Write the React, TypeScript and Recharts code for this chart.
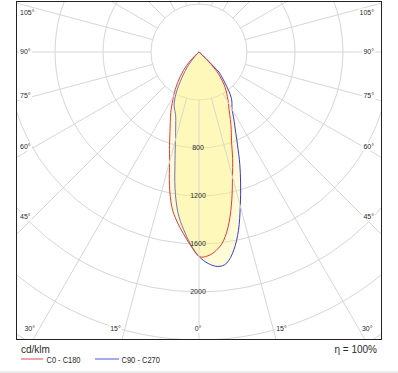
import React from 'react'
import { RadarChart, Radar, PolarGrid, PolarAngleAxis, PolarRadiusAxis } from 'recharts'

const gammas = [0, 2.5, 5, 7.5, 10, 12.5, 15, 17.5, 20, 22.5, 25, 27.5, 30, 32.5, 35, 37.5, 40, 42.5, 45, 47.5, 50]

// cd/klm, red curve: C0 half (right) and C180 half (left)
const c0 = [1703, 1700, 1659, 1582, 1443, 1263, 1078, 932, 792, 702, 619, 542, 491, 439, 393, 345, 283, 224, 117, 10, 0]
const c180 = [1700, 1613, 1516, 1421, 1308, 1138, 949, 818, 707, 625, 558, 485, 423, 367, 310, 255, 203, 152, 96, 25, 0]
// blue curve: C90 half (right) and C270 half (left)
const c90 = [1704, 1764, 1794, 1774, 1674, 1521, 1330, 1153, 994, 838, 717, 628, 552, 511, 471, 407, 337, 282, 221, 40, 0]
const c270 = [1704, 1604, 1482, 1348, 1152, 924, 757, 646, 568, 527, 491, 435, 366, 288, 222, 167, 108, 50, 0, 0, 0]

// nothing is emitted upwards
const upperAngles = [60, 90, 180, 270, 300]

const ringTicks = [400, 800, 1200, 1600, 2000, 2400, 2800]
const ringLabels = [800, 1200, 1600, 2000]
const angleTicks = [0, 15, 30, 45, 60, 75, 90, 105, 120, 135, 150, 165, 180, 195, 210, 225, 240, 255, 270, 285, 300, 315, 330, 345]

const rows = [
  ...gammas.map((g, i) => ({ angle: g, red: c0[i], blue: c90[i] })),
  ...upperAngles.map((a) => ({ angle: a, red: 0, blue: 0 })),
  ...gammas
    .map((g, i) => ({ angle: 360 - g, red: c180[i], blue: c270[i] }))
    .filter((r) => r.angle < 360)
    .reverse(),
]

const W = 366
const H = 339
const CX = 183
const CY = 51
const R_OUT = 336
const RAD = Math.PI / 180
const GRID = '#d6d6d6'
const INK = '#2a2a2a'
const FILL = '#fff27a'

type Pt = { x: number; y: number }

// closed curve through the radar points, sharp at the pole
function smoothLoop(raw: any[], stroke: string) {
  if (!raw || !raw.length) return <g />
  const pts: Pt[] = []
  raw.forEach((p) => {
    const last = pts[pts.length - 1]
    if (!last || Math.hypot(p.x - last.x, p.y - last.y) > 0.2) pts.push({ x: p.x, y: p.y })
  })
  const first = pts[0]
  const end = pts[pts.length - 1]
  if (pts.length > 1 && Math.hypot(first.x - end.x, first.y - end.y) < 0.2) pts.pop()

  const pole = raw.find((p) => p.value === 0) || raw[0]
  let z = 0
  pts.forEach((p, i) => {
    if (Math.hypot(p.x - pole.x, p.y - pole.y) < Math.hypot(pts[z].x - pole.x, pts[z].y - pole.y)) z = i
  })
  const seq = pts.slice(z).concat(pts.slice(0, z))
  seq.push(seq[0])

  let d = `M${seq[0].x},${seq[0].y}`
  for (let i = 0; i < seq.length - 1; i++) {
    const p0 = seq[i - 1] || seq[i]
    const p1 = seq[i]
    const p2 = seq[i + 1]
    const p3 = seq[i + 2] || seq[i + 1]
    const c1x = p1.x + (p2.x - p0.x) / 6
    const c1y = p1.y + (p2.y - p0.y) / 6
    const c2x = p2.x - (p3.x - p1.x) / 6
    const c2y = p2.y - (p3.y - p1.y) / 6
    d += `C${c1x},${c1y},${c2x},${c2y},${p2.x},${p2.y}`
  }
  d += 'Z'
  return <path d={d} fill={FILL} fillOpacity={0.3} stroke={stroke} strokeWidth={1} />
}

function AngleTick(props: any) {
  const v = props.payload.value as number
  const g = v <= 180 ? v : 360 - v
  if (g > 105) return null
  const left = v > 180
  const label = `${g}°`
  const w = (label.length - 1) * 3.9 + 3
  let x: number
  let y: number
  let anchor: 'start' | 'middle' | 'end'
  if (g <= 30) {
    y = 328
    const lx = CX + (left ? -1 : 1) * (y - CY) * Math.tan(g * RAD)
    if (g === 0) {
      x = lx - 1
      anchor = 'middle'
    } else if (left) {
      x = lx - 4
      anchor = 'end'
    } else {
      x = lx + 3
      anchor = 'start'
    }
  } else {
    const dy = (173 * Math.cos(g * RAD)) / Math.sin(g * RAD)
    y = Math.max(CY + 0.95 * dy, 11.5)
    x = left ? 4 : W - 8
    anchor = left ? 'start' : 'end'
  }
  const rx = anchor === 'start' ? x - 1 : anchor === 'end' ? x - w - 1 : x - w / 2 - 1
  return (
    <g>
      <rect x={rx} y={y - 4} width={w + 2} height={8} fill="#fff" />
      <text x={x} y={y} dy="0.35em" textAnchor={anchor} fontSize={7} fill={INK}>
        {label}
      </text>
    </g>
  )
}

function RingTick(props: any) {
  const v = props.payload.value as number
  if (!ringLabels.includes(v)) return null
  return (
    <text x={props.x - 1} y={props.y} dy="0.35em" textAnchor="middle" fontSize={7} fill={INK}>
      {v}
    </text>
  )
}

export default function App() {
  return (
    <div
      style={{
        position: 'absolute',
        left: 0,
        top: 0,
        width: 398,
        height: 373,
        background: '#fff',
        overflow: 'hidden',
        fontFamily: 'Arial, "Liberation Sans", sans-serif',
      }}
    >
      <div style={{ position: 'absolute', left: 16, top: 1, opacity: 0.999 }}>
        <RadarChart
          width={W}
          height={H}
          cx={CX}
          cy={CY}
          outerRadius={R_OUT}
          innerRadius={0}
          startAngle={-90}
          endAngle={270}
          data={rows}
          margin={{ top: 0, right: 0, bottom: 0, left: 0 }}
        >
          <PolarGrid gridType="circle" radialLines={false} stroke={GRID} />
          <PolarAngleAxis
            dataKey="angle"
            type="number"
            domain={[0, 360]}
            ticks={angleTicks}
            axisLine={false}
            orientation="inner"
            tickSize={R_OUT - 48}
            stroke={GRID}
            tickLine={{ stroke: GRID }}
            tick={<AngleTick />}
          />
          <PolarRadiusAxis
            type="number"
            domain={[0, 2800]}
            ticks={ringTicks}
            angle={-90}
            axisLine={false}
            tickLine={false}
            tick={<RingTick />}
          />
          <Radar
            dataKey="blue"
            stroke="#3a3ad4"
            fill={FILL}
            dot={false}
            shape={(p: any) => smoothLoop(p.points, '#3a3ad4')}
            isAnimationActive={false}
          />
          <Radar
            dataKey="red"
            stroke="#e23a3a"
            fill={FILL}
            dot={false}
            shape={(p: any) => smoothLoop(p.points, '#e23a3a')}
            isAnimationActive={false}
          />
        </RadarChart>
      </div>
      <div
        style={{
          position: 'absolute',
          left: 16,
          top: 1,
          width: W,
          height: H,
          border: '1px solid #222',
          boxSizing: 'border-box',
          pointerEvents: 'none',
        }}
      />
      <svg style={{ position: 'absolute', left: 0, top: 340 }} width={398} height={30}>
        <text x={21} y={13} fontSize={10} fill={INK}>
          cd/klm
        </text>
        <line x1={21} x2={43} y1={19} y2={19} stroke="#f0a2aa" strokeWidth={2} />
        <text x={46.5} y={22.5} fontSize={9} fill={INK} textLength={34} lengthAdjust="spacingAndGlyphs">
          C0 - C180
        </text>
        <line x1={95} x2={119} y1={19} y2={19} stroke="#a8a8ee" strokeWidth={2} />
        <text x={121.5} y={22.5} fontSize={9} fill={INK} textLength={38.5} lengthAdjust="spacingAndGlyphs">
          C90 - C270
        </text>
        <text x={377} y={13} fontSize={10} fill={INK} textAnchor="end">
          η = 100%
        </text>
      </svg>
      <div style={{ position: 'absolute', left: 0, top: 371, width: 398, height: 2, background: '#ececec' }} />
    </div>
  )
}
